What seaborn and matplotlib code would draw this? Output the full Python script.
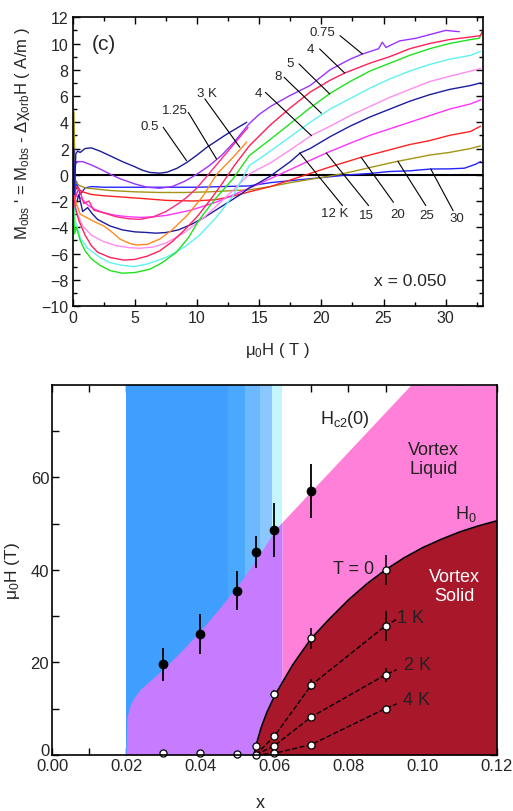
import numpy as np
import pandas as pd
import matplotlib
matplotlib.use("Agg")
import matplotlib.pyplot as plt
import matplotlib.transforms as mtransforms
import seaborn as sns

sns.set_theme(style="ticks")
plt.rcParams["font.family"] = ["Liberation Sans", "DejaVu Sans"]
plt.rcParams["mathtext.fontset"] = "custom"
plt.rcParams["mathtext.rm"] = "Liberation Sans"
plt.rcParams["mathtext.it"] = "Liberation Sans:italic"

# ---------------- panel (c): magnetization curves, x = 0.050 ----------------
# field (T) and M' (A/m) for each temperature
T05_H = [0.02, 0.08, 0.15, 0.25, 0.4, 0.6, 1.0, 1.5, 2.2, 3.0, 4.0, 4.9, 5.6, 6.2, 7.0, 7.6, 8.4, 9.2, 10.0, 10.8, 11.6, 12.4, 13.2, 14.0]
T05_M = [0.5, 2.0, -1.5, 1.6, 1.8, 1.7, 2.0, 2.05, 1.8, 1.45, 1.0, 0.65, 0.35, 0.18, 0.12, 0.2, 0.5, 0.95, 1.5, 2.1, 2.6, 3.1, 3.55, 4.0]

T075_H = [0.05, 0.3, 0.8, 1.5, 2.2, 3.0, 3.8, 5.0, 6.0, 7.0, 8.0, 9.0, 10.0, 11.0, 12.0, 12.9, 14.2, 15.0, 15.9, 17.4, 19.1, 20.7, 22.3, 23.3, 24.6, 24.9, 25.2, 26.3, 27.6, 28.8, 30.0, 31.1]
T075_M = [0.3, 1.0, 1.0, 0.75, 0.44, 0.05, -0.3, -0.7, -0.95, -1.03, -0.9, -0.5, 0.05, 0.7, 1.5, 2.4, 3.9, 4.6, 5.2, 6.0, 6.8, 8.0, 8.8, 9.2, 9.6, 10.1, 9.7, 10.2, 10.4, 10.7, 11.0, 10.9]

T125_H = [0.05, 0.2, 0.5, 0.9, 1.3, 1.7, 2.5, 3.5, 4.5, 5.4, 6.5, 7.5, 8.5, 9.2, 10.0, 10.8, 11.6, 12.4, 13.2, 14.1]
T125_M = [-0.5, -1.8, -1.0, -2.2, -2.0, -2.7, -2.9, -3.2, -3.35, -3.4, -3.2, -2.8, -2.2, -1.7, -1.0, -0.1, 0.8, 1.7, 2.6, 3.6]

T3_H = [0.05, 0.3, 0.6, 1.2, 1.8, 2.5, 3.2, 3.8, 4.5, 5.1, 6.0, 7.0, 8.0, 9.2, 10.5, 11.6, 12.9, 14.0]
T3_M = [-1.2, -2.2, -3.0, -3.3, -3.6, -3.9, -4.4, -4.9, -5.2, -5.35, -5.3, -4.9, -4.2, -3.1, -1.6, 0.06, 1.33, 2.5]

T4a_H = [0.05, 0.2, 0.5, 1.0, 1.5, 2.0, 3.0, 4.1, 5.0, 6.0, 7.0, 8.0, 9.0, 10.0, 11.0, 12.0, 13.0, 14.2, 15.9, 17.5, 19.1, 20.7, 21.9, 23.9, 25.5, 27.1, 28.7, 30.3, 32.0, 32.8, 33.0]
T4a_M = [-1.0, -2.5, -3.5, -4.6, -5.4, -5.9, -6.3, -6.5, -6.45, -6.2, -5.8, -5.1, -4.2, -3.2, -2.0, -0.7, 0.7, 2.2, 3.8, 5.1, 6.3, 7.2, 7.76, 8.5, 9.0, 9.6, 10.0, 10.3, 10.5, 10.6, 11.0]

T5_H = [0.05, 0.15, 0.3, 0.6, 1.0, 1.5, 2.2, 3.0, 4.0, 5.0, 6.2, 7.2, 8.35, 9.3, 10.2, 11.5, 12.9, 14.2, 15.9, 17.5, 19.1, 20.7, 22.3, 23.9, 25.5, 27.1, 28.7, 30.3, 32.0, 32.7, 33.0]
T5_M = [-2.0, -4.5, -4.0, -5.0, -5.8, -6.4, -6.9, -7.3, -7.5, -7.45, -7.2, -6.7, -5.9, -4.8, -3.4, -1.8, -0.3, 1.46, 2.7, 3.9, 5.1, 6.2, 7.1, 7.9, 8.5, 9.1, 9.6, 10.0, 10.3, 10.4, 11.0]

T8_H = [0.05, 0.2, 0.6, 1.2, 2.2, 3.0, 4.0, 4.9, 6.0, 7.5, 9.0, 10.2, 11.5, 12.9, 14.2, 15.9, 17.5, 19.1, 20.7, 22.3, 23.9, 25.5, 27.1, 28.7, 30.3, 32.0, 32.8]
T8_M = [-1.5, -3.5, -4.8, -5.6, -6.3, -6.7, -6.9, -7.0, -6.8, -6.3, -5.5, -4.6, -3.3, -1.6, 0.7, 1.8, 2.9, 4.0, 5.0, 5.8, 6.6, 7.3, 7.9, 8.4, 8.8, 9.1, 9.4]

T4b_H = [0.05, 0.3, 0.8, 1.5, 2.5, 3.5, 4.5, 5.4, 6.5, 7.5, 9.0, 10.5, 12.0, 13.2, 14.2, 15.9, 17.5, 19.2, 20.7, 22.3, 23.9, 25.5, 27.1, 28.7, 30.3, 32.0, 32.8]
T4b_M = [-1.0, -2.8, -3.9, -4.6, -5.1, -5.4, -5.55, -5.6, -5.5, -5.2, -4.4, -3.3, -2.0, -0.9, 0.06, 0.9, 1.9, 3.0, 3.7, 4.5, 5.2, 5.9, 6.5, 7.1, 7.5, 7.9, 8.1]

T12_H = [0.05, 0.2, 0.5, 0.8, 1.2, 1.6, 2.0, 3.0, 4.0, 5.0, 6.0, 6.7, 7.5, 8.5, 9.5, 10.5, 11.5, 12.5, 13.5, 14.2, 15.0, 15.9, 17.5, 18.3, 19.1, 20.7, 22.3, 23.9, 25.5, 27.1, 28.7, 30.3, 32.0, 32.8]
T12_M = [0.0, -2.5, -1.5, -2.8, -2.5, -3.0, -3.4, -3.9, -4.2, -4.35, -4.4, -4.45, -4.4, -4.2, -3.8, -3.3, -2.7, -2.1, -1.5, -1.0, -0.6, -0.1, 1.0, 1.66, 2.0, 2.9, 3.7, 4.4, 5.0, 5.6, 6.1, 6.5, 6.8, 7.0]

T15_H = [0.05, 0.3, 0.7, 1.2, 1.7, 2.5, 3.5, 4.5, 5.5, 6.5, 7.5, 8.5, 9.5, 10.5, 11.5, 12.5, 13.5, 14.5, 15.9, 17.5, 19.1, 20.4, 22.3, 23.9, 25.5, 27.1, 28.7, 30.3, 32.0, 32.8]
T15_M = [-0.5, -1.6, -1.8, -2.3, -2.6, -2.9, -3.1, -3.2, -3.25, -3.2, -3.1, -2.9, -2.7, -2.4, -2.1, -1.7, -1.3, -0.9, -0.3, 0.4, 1.1, 1.66, 2.4, 3.0, 3.5, 4.0, 4.5, 5.0, 5.4, 5.7]

T20_H = [0.05, 0.3, 0.8, 1.5, 2.5, 4.0, 5.5, 7.5, 9.7, 11.5, 13.0, 14.2, 15.9, 17.5, 19.1, 20.7, 23.2, 25.5, 27.1, 28.7, 30.3, 32.0, 32.8]
T20_M = [-0.5, -1.0, -1.3, -1.5, -1.6, -1.7, -1.8, -1.95, -2.0, -1.9, -1.6, -1.3, -0.9, -0.4, 0.1, 0.6, 1.33, 1.9, 2.3, 2.6, 3.0, 3.3, 3.7]

T25_H = [0.05, 0.1, 0.2, 0.5, 1.0, 2.0, 3.0, 5.0, 7.0, 9.0, 11.0, 13.0, 14.2, 15.9, 17.5, 19.1, 20.7, 22.3, 23.9, 26.15, 27.1, 28.7, 30.3, 32.0, 32.8]
T25_M = [1.0, 4.8, -0.5, -0.8, -1.0, -1.1, -1.2, -1.3, -1.35, -1.35, -1.3, -1.2, -1.15, -0.9, -0.6, -0.35, -0.1, 0.2, 0.55, 1.03, 1.2, 1.5, 1.7, 2.0, 2.2]

T30_H = [0.05, 0.15, 0.3, 0.6, 1.0, 1.5, 2.5, 4.0, 6.0, 8.0, 10.0, 12.0, 14.2, 15.9, 17.5, 19.1, 20.7, 22.3, 23.9, 25.5, 27.1, 28.8, 30.3, 31.5, 32.4, 32.8]
T30_M = [1.5, -2.0, -0.5, -1.5, -1.0, -0.9, -0.95, -0.95, -0.95, -0.95, -0.95, -0.9, -0.85, -0.6, -0.45, -0.3, -0.15, 0.0, 0.1, 0.25, 0.3, 0.44, 0.45, 0.5, 0.8, 1.0]

curves = [
    ("30 K", "#2424ff", T30_H, T30_M),
    ("25 K", "#a39414", T25_H, T25_M),
    ("20 K", "#ff2222", T20_H, T20_M),
    ("15 K", "#ff33ff", T15_H, T15_M),
    ("12 K", "#1c1ca0", T12_H, T12_M),
    ("4 K b", "#ff8cf0", T4b_H, T4b_M),
    ("8 K", "#5ff2f2", T8_H, T8_M),
    ("5 K", "#1ee31e", T5_H, T5_M),
    ("4 K a", "#ff1f5a", T4a_H, T4a_M),
    ("3 K", "#ff8a1e", T3_H, T3_M),
    ("1.25 K", "#ff2a80", T125_H, T125_M),
    ("0.75 K", "#9a33ff", T075_H, T075_M),
    ("0.5 K", "#1c1c9a", T05_H, T05_M),
]

# curve labels: text, text position (H, M), leader start, leader end
top_labels = [
    ("0.5", (6.2, 3.7), (7.28, 3.62), (9.16, 1.07)),
    ("1.25", (8.2, 4.94), (9.29, 4.76), (11.57, 1.2)),
    ("3 K", (10.8, 6.23), (10.63, 5.78), (13.44, 2.1)),
    ("0.75", (20.06, 10.88), (21.5, 10.6), (23.3, 9.2)),
    ("4", (19.1, 9.6), (19.86, 9.59), (21.87, 7.76)),
    ("5", (17.5, 8.5), (18.2, 8.45), (20.67, 6.16)),
    ("8", (16.5, 7.5), (17.0, 7.43), (20.0, 4.69)),
    ("4", (14.9, 6.23), (15.5, 6.28), (19.2, 2.98)),
    ("12 K", (21.07, -2.91), (21.7, -2.35), (18.26, 1.66)),
    ("15", (23.6, -3.07), (23.8, -2.35), (20.4, 1.66)),
    ("20", (26.1, -2.99), (25.8, -2.1), (23.2, 1.33)),
    ("25", (28.5, -3.07), (28.4, -2.35), (26.15, 1.03)),
    ("30", (30.9, -3.3), (30.6, -2.74), (28.8, 0.44)),
]

# ---------------- phase diagram ----------------
# Hc2(0) boundary
hc2_x = [0.020, 0.0202, 0.021, 0.022, 0.024, 0.027, 0.030, 0.035, 0.040, 0.045, 0.050, 0.055, 0.0603, 0.070, 0.0968, 0.120]
hc2_H = [0.0, 8.0, 10.5, 12.2, 14.3, 16.4, 18.5, 22.5, 26.8, 31.5, 36.5, 42.0, 48.8, 57.1, 80.0, 80.0]
# H0 (T = 0 melting line)
h0_x = [0.0545, 0.055, 0.0565, 0.058, 0.0603, 0.065, 0.070, 0.075, 0.080, 0.085, 0.090, 0.095, 0.100, 0.105, 0.110, 0.115, 0.120]
h0_H = [0.0, 1.9, 6.0, 9.2, 13.1, 19.5, 25.2, 29.5, 33.5, 37.0, 40.0, 42.6, 44.8, 46.6, 48.2, 49.5, 50.6]

# shaded bands (x edges, colours)
band_edges = [0.020, 0.0476, 0.0522, 0.0560, 0.0595, 0.0621]
band_colors = ["#409eff", "#4aa8ff", "#6cb9ff", "#8ac8ff", "#c4f6ff"]
x_liquid = 0.0621

# filled points with error bars
hc2_pts_x = [0.03, 0.04, 0.05, 0.055, 0.06, 0.07]
hc2_pts_H = [19.6, 26.2, 35.5, 43.9, 48.6, 57.1]
hc2_pts_err = [3.6, 4.3, 4.2, 3.5, 5.8, 5.8]

# open points
zero_x = [0.03, 0.04, 0.05, 0.055]
zero_H = [0.4, 0.4, 0.2, 0.0]
t0_x = [0.055, 0.06, 0.07, 0.09]
t0_H = [1.95, 13.1, 25.2, 40.0]
t0_err = [0.0, 1.0, 2.3, 3.2]
iso_x = [0.055, 0.06, 0.07, 0.09, 0.093]
iso_1K = [0.0, 4.0, 15.1, 27.9, 29.3]
iso_2K = [0.0, 1.95, 8.2, 17.3, 18.4]
iso_4K = [0.0, 0.3, 2.2, 10.0, 11.0]
iso_err_1K = [0.0, 0.0, 1.2, 3.2]
iso_err_2K = [0.0, 0.0, 0.8, 1.5]
iso_err_4K = [0.0, 0.0, 0.6, 0.8]

fig = plt.figure(figsize=(5.13, 8.12), dpi=100)

# ================= top panel =================
ax1 = fig.add_axes([0.1417, 0.6219, 0.7998, 0.3556])
for name, col, H, M in curves:
    df = pd.DataFrame({"H": H, "M": M})
    sns.lineplot(data=df, x="H", y="M", color=col, lw=1.0, sort=False,
                 estimator=None, ax=ax1)
ax1.axhline(0, color="black", lw=1.5, zorder=1)

for txt, tpos, p0, p1 in top_labels:
    ax1.text(tpos[0], tpos[1], txt, fontsize=9.5, ha="center", va="center")
    ax1.annotate("", xy=p1, xytext=p0,
                 arrowprops=dict(arrowstyle="-", color="black", lw=0.8,
                                 shrinkA=0, shrinkB=0))

ax1.text(1.5, 10.0, "(c)", fontsize=15, ha="left", va="center")
ax1.text(24.2, -8.06, "x = 0.050", fontsize=12.5, ha="left", va="center")

ax1.set_xlim(0, 33)
ax1.set_ylim(-10, 12)
ax1.set_xticks([0, 5, 10, 15, 20, 25, 30])
ax1.set_xticks(np.arange(2.5, 33, 5), minor=True)
ax1.set_yticks(np.arange(-10, 13, 2))
ax1.set_yticks(np.arange(-9, 12, 2), minor=True)
ax1.tick_params(which="both", direction="in", top=True, right=True,
                labelsize=11.5, width=1.0, color="black", pad=3)
ax1.tick_params(which="major", length=5)
ax1.tick_params(which="minor", length=3)
for s in ax1.spines.values():
    s.set_linewidth(1.2)
    s.set_color("black")
ax1.set_xlabel("μ$\\mathregular{_0}$H ( T )", fontsize=12, va="center")
ax1.xaxis.set_label_coords(0.5, -0.149)
ax1.set_ylabel("M$\\mathregular{_{obs}}$ ' = M$\\mathregular{_{obs}}$ - Δχ$\\mathregular{_{orb}}$H ( A/m )",
               fontsize=12)
ax1.yaxis.set_label_coords(-0.099, 0.6)

# ================= bottom panel =================
ax2 = fig.add_axes([0.1014, 0.0693, 0.8668, 0.4553])
for i, col in enumerate(band_colors):
    ax2.axvspan(band_edges[i], band_edges[i + 1], color=col, lw=0, zorder=1)

hx = np.array(hc2_x)
hH = np.array(hc2_H)
m_sc = hx <= x_liquid
ax2.fill_between(np.append(hx[m_sc], x_liquid),
                 0, np.append(hH[m_sc], np.interp(x_liquid, hx, hH)),
                 color="#c77bff", lw=0, zorder=2)
xl = np.concatenate([[x_liquid], hx[hx > x_liquid]])
ax2.fill_between(xl, 0, np.interp(xl, hx, hH), color="#ff80d8", lw=0, zorder=2)
ax2.fill_between(h0_x, 0, h0_H, color="#a8172a", lw=0, zorder=3)
sns.lineplot(x=h0_x, y=h0_H, color="black", lw=1.2, sort=False,
             estimator=None, ax=ax2, zorder=4)

for iso in (iso_1K, iso_2K, iso_4K):
    sns.lineplot(x=iso_x, y=iso, color="black", lw=1.0, sort=False,
                 estimator=None, ax=ax2, zorder=4, linestyle="--", dashes=(4, 3))

# error bars
ax2.errorbar(hc2_pts_x, hc2_pts_H, yerr=hc2_pts_err, fmt="none",
             ecolor="black", elinewidth=1.3, zorder=5)
ax2.errorbar(t0_x, t0_H, yerr=t0_err, fmt="none", ecolor="black",
             elinewidth=1.1, zorder=5)
for iso, err in ((iso_1K, iso_err_1K), (iso_2K, iso_err_2K), (iso_4K, iso_err_4K)):
    ax2.errorbar(iso_x[:4], iso[:4], yerr=err, fmt="none", ecolor="black",
                 elinewidth=1.1, zorder=5)

sns.scatterplot(x=hc2_pts_x, y=hc2_pts_H, color="black", s=42,
                edgecolor="black", ax=ax2, zorder=6)
open_x = zero_x + t0_x + iso_x[1:4] + iso_x[1:4] + iso_x[1:4]
open_H = zero_H + t0_H + iso_1K[1:4] + iso_2K[1:4] + iso_4K[1:4]
sns.scatterplot(x=open_x, y=open_H, color="white", s=26, edgecolor="black",
                linewidth=0.9, ax=ax2, zorder=6, clip_on=False)

ax2.text(0.0790, 72.7, "H$\\mathregular{_{c2}}$(0)", fontsize=13, ha="center",
         va="center", color="#222222")
ax2.text(0.1030, 64.0, "Vortex\nLiquid", fontsize=13, ha="center",
         va="center", color="#222222", linespacing=1.1)
ax2.text(0.1116, 52.3, "H$\\mathregular{_0}$", fontsize=13, ha="center",
         va="center", color="#222222")
ax2.text(0.0870, 40.3, "T = 0", fontsize=13, ha="right", va="center",
         color="#222222")
ax2.text(0.1086, 36.5, "Vortex\nSolid", fontsize=13, ha="center",
         va="center", color="white", linespacing=1.1)
ax2.text(0.0932, 29.8, "1 K", fontsize=13, ha="left", va="center", color="#222222")
ax2.text(0.0950, 19.5, "2 K", fontsize=13, ha="left", va="center", color="#222222")
ax2.text(0.0946, 11.9, "4 K", fontsize=13, ha="left", va="center", color="#222222")

ax2.set_xlim(0, 0.12)
ax2.set_ylim(0, 80)
ax2.set_xticks(np.arange(0, 0.121, 0.02))
ax2.set_xticklabels([f"{v:.2f}" for v in np.arange(0, 0.121, 0.02)])
ax2.set_xticks(np.arange(0.01, 0.12, 0.02), minor=True)
ax2.set_yticks([0, 20, 40, 60])
ax2.set_yticks([10, 30, 50, 70], minor=True)
ax2.tick_params(which="both", direction="in", top=True, right=True,
                labelsize=12, width=1.0, color="black", pad=2)
ax2.tick_params(which="major", length=5)
ax2.tick_params(which="minor", length=5)
for s in ax2.spines.values():
    s.set_linewidth(1.2)
    s.set_color("black")
    s.set_zorder(7)
# the zero label on the field axis sits just above the x-axis labels
zero_lab = ax2.yaxis.get_majorticklabels()[0]
zero_lab.set_transform(zero_lab.get_transform() +
                       mtransforms.ScaledTranslation(0, 6 / 100, fig.dpi_scale_trans))
ax2.set_xlabel("x", fontsize=13, va="center")
ax2.xaxis.set_label_coords(0.468, -0.128)
ax2.set_ylabel("μ$\\mathregular{_0}$H (T)", fontsize=12.5)
ax2.yaxis.set_label_coords(-0.068, 0.5)

fig.savefig("out.png", dpi=100)
